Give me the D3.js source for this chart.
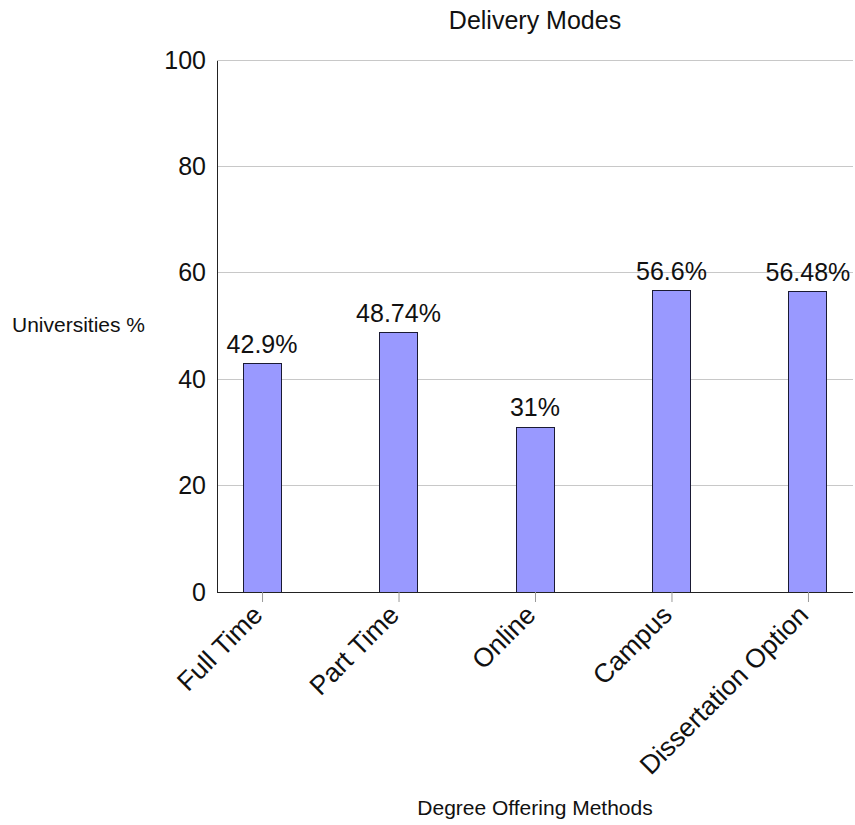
<!DOCTYPE html>
<html>
<head>
<meta charset="utf-8">
<script src="https://cdn.jsdelivr.net/npm/d3@7"></script>
<style>
  html, body { margin: 0; padding: 0; background: #fff; }
  svg { display: block; font-family: "Liberation Sans", Arial, Helvetica, sans-serif; }
</style>
</head>
<body>
<svg id="chart" width="855" height="825"></svg>
<script>
// Delivery modes offered by universities (percent)
const categories = ["Full Time", "Part Time", "Online", "Campus", "Dissertation Option"];
const values = [42.9, 48.74, 31, 56.6, 56.48];
const yTicks = [0, 20, 40, 60, 80, 100];

const plot = { left: 217, right: 853, top: 60, bottom: 592 };

const svg = d3.select("#chart");

const x = d3.scalePoint()
  .domain(categories)
  .range([plot.left, plot.right])
  .padding(0.33);

const y = d3.scaleLinear()
  .domain([0, 100])
  .range([plot.bottom, plot.top]);

const barWidth = 38;

// horizontal grid lines
svg.append("g")
  .selectAll("line")
  .data(yTicks.filter(d => d > 0))
  .join("line")
  .attr("x1", plot.left).attr("x2", plot.right)
  .attr("y1", d => y(d)).attr("y2", d => y(d))
  .attr("stroke", "#c8c8c8")
  .attr("stroke-width", 1)
  .attr("shape-rendering", "crispEdges");

// y axis
const yAxis = svg.append("g")
  .attr("transform", `translate(${plot.left},0)`)
  .call(d3.axisLeft(y).tickValues(yTicks).tickSize(0).tickPadding(11));
yAxis.select(".domain").attr("stroke", "#222").attr("shape-rendering", "crispEdges");
yAxis.selectAll("text")
  .attr("font-size", 25)
  .attr("fill", "#111")
  .style("font-family", "'Liberation Sans', Arial, sans-serif");

// bars
svg.append("g")
  .selectAll("rect")
  .data(values)
  .join("rect")
  .attr("x", (d, i) => x(categories[i]) - barWidth / 2)
  .attr("y", d => y(d))
  .attr("width", barWidth)
  .attr("height", d => y(0) - y(d))
  .attr("fill", "#9999ff")
  .attr("stroke", "#1a1a33")
  .attr("stroke-width", 1)
  .attr("shape-rendering", "crispEdges");

// value labels
svg.append("g")
  .selectAll("text")
  .data(values)
  .join("text")
  .attr("x", (d, i) => x(categories[i]))
  .attr("y", d => y(d) - 11)
  .attr("text-anchor", "middle")
  .attr("font-size", 25)
  .attr("fill", "#111")
  .text(d => d + "%");

// x axis
const xAxis = svg.append("g")
  .attr("transform", `translate(0,${plot.bottom})`)
  .call(d3.axisBottom(x).tickSize(10).tickPadding(0));
xAxis.select(".domain").attr("stroke", "#222").attr("d", `M${plot.left},0.5H${plot.right}`).attr("shape-rendering", "crispEdges");
xAxis.selectAll(".tick line").attr("stroke", "#999");
xAxis.selectAll(".tick text")
  .attr("font-size", 26.5)
  .attr("fill", "#111")
  .style("font-family", "'Liberation Sans', Arial, sans-serif")
  .attr("text-anchor", "end")
  .attr("x", 0)
  .attr("y", 0)
  .attr("dy", "0.35em")
  .attr("transform", "translate(-5,18) rotate(-45)");

// title
svg.append("text")
  .attr("x", (plot.left + plot.right) / 2)
  .attr("y", 29)
  .attr("text-anchor", "middle")
  .attr("font-size", 25)
  .attr("fill", "#111")
  .text("Delivery Modes");

// axis titles
svg.append("text")
  .attr("x", 12)
  .attr("y", 332)
  .attr("font-size", 21)
  .attr("fill", "#111")
  .text("Universities %");

svg.append("text")
  .attr("x", (plot.left + plot.right) / 2)
  .attr("y", 815)
  .attr("text-anchor", "middle")
  .attr("font-size", 21)
  .attr("fill", "#111")
  .text("Degree Offering Methods");
</script>
</body>
</html>
